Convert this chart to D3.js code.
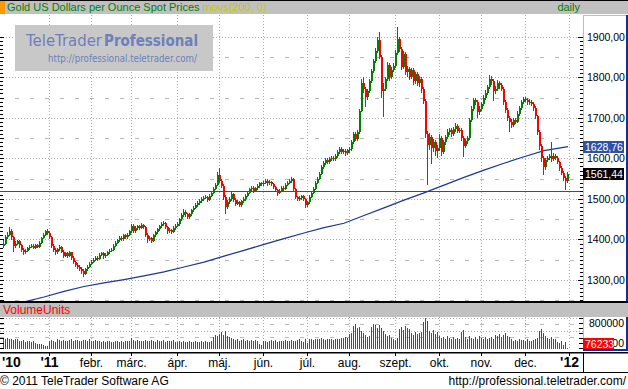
<!DOCTYPE html>
<html>
<head>
<meta charset="utf-8">
<script src="https://cdnjs.cloudflare.com/ajax/libs/d3/7.8.5/d3.min.js"></script>
<style>
body { margin: 0; background: #fff; }
svg { display: block; font-family: "Liberation Sans", Arial, sans-serif; }
</style>
</head>
<body>
<svg id="chart"></svg>
<script>
// chart size
var width = 628;
var height = 389;

// daily closes, Dec 1 2010 .. Dec 30 2011 (one per weekday), open = previous close
var firstOpen = 1385;
var closes = [
  1390,1405,1412,1422,1405,1385,1390,1395,1386,1375,
  1368,1372,1378,1382,1385,1380,1386,1382,1392,1404,
  1412,1420,1416,1405,1384,1375,1368,1376,1382,1370,
  1360,1366,1360,1368,1355,1345,1338,1332,1328,1322,
  1316,1326,1333,1340,1345,1350,1355,1352,1362,1366,
  1358,1362,1368,1372,1375,1385,1392,1398,1404,1400,
  1410,1405,1412,1420,1434,1420,1428,1432,1428,1435,
  1430,1412,1400,1404,1396,1410,1418,1425,1432,1438,
  1440,1430,1420,1424,1418,1428,1434,1437,1450,1460,
  1468,1462,1455,1462,1472,1478,1485,1490,1495,1500,
  1503,1505,1498,1508,1515,1525,1535,1560,1545,1532,
  1505,1480,1492,1500,1512,1498,1488,1492,1485,1494,
  1500,1508,1515,1524,1528,1520,1526,1532,1538,1536,
  1540,1545,1538,1542,1536,1530,1522,1515,1520,1528,
  1525,1535,1540,1545,1548,1525,1505,1500,1502,1506,
  1500,1485,1492,1505,1515,1525,1540,1550,1562,1578,
  1588,1595,1590,1598,1602,1598,1606,1615,1622,1615,
  1618,1612,1620,1622,1640,1660,1648,1665,1718,1785,
  1770,1752,1765,1790,1815,1840,1865,1892,1850,1765,
  1772,1795,1830,1800,1818,1828,1860,1895,1870,1825,
  1858,1812,1820,1800,1818,1790,1808,1785,1795,1770,
  1742,1660,1632,1652,1625,1640,1618,1625,1650,1615,
  1640,1652,1665,1670,1660,1672,1680,1668,1670,1650,
  1630,1642,1650,1695,1722,1745,1740,1715,1722,1735,
  1750,1762,1775,1795,1790,1765,1770,1785,1780,1772,
  1740,1720,1700,1690,1682,1695,1690,1710,1725,1740,
  1746,1745,1738,1740,1735,1725,1705,1665,1630,1600,
  1578,1595,1600,1605,1598,1606,1600,1590,1575,1565,
  1552,1545,1561.44
];
var highs = [
  1398,1410,1418,1431,1426,1408,1396,1399,1398,1390,
  1378,1376,1382,1386,1389,1388,1390,1389,1395,1407,
  1416,1424,1425,1420,1408,1388,1378,1380,1386,1384,
  1373,1370,1369,1372,1370,1358,1348,1342,1336,1331,
  1326,1330,1337,1344,1349,1354,1358,1359,1366,1370,
  1369,1366,1372,1376,1379,1388,1396,1402,1408,1409,
  1414,1413,1416,1424,1438,1437,1432,1436,1435,1440,
  1438,1433,1415,1408,1407,1413,1422,1429,1436,1442,
  1445,1443,1434,1428,1427,1432,1438,1442,1454,1464,
  1474,1472,1466,1466,1476,1482,1489,1494,1499,1504,
  1507,1510,1508,1512,1520,1530,1540,1566,1577,1549,
  1536,1510,1497,1505,1516,1515,1502,1497,1495,1498,
  1505,1512,1519,1528,1532,1531,1530,1536,1542,1542,
  1545,1550,1548,1546,1545,1539,1533,1525,1524,1532,
  1531,1539,1544,1550,1554,1551,1528,1508,1507,1510,
  1509,1503,1496,1509,1519,1529,1544,1554,1567,1583,
  1593,1600,1600,1603,1607,1606,1610,1620,1628,1627,
  1622,1622,1624,1628,1645,1666,1664,1670,1722,1795,
  1800,1775,1770,1795,1820,1846,1872,1900,1912,1855,
  1785,1800,1838,1835,1825,1835,1866,1924,1900,1875,
  1865,1862,1828,1826,1824,1822,1814,1812,1802,1800,
  1775,1746,1668,1662,1658,1648,1645,1632,1660,1656,
  1645,1658,1672,1676,1675,1678,1686,1684,1676,1674,
  1655,1648,1656,1700,1728,1750,1750,1744,1728,1740,
  1755,1768,1780,1805,1802,1795,1778,1792,1790,1786,
  1776,1745,1724,1705,1696,1700,1700,1716,1730,1745,
  1752,1752,1750,1746,1745,1740,1730,1708,1670,1635,
  1605,1600,1606,1610,1640,1612,1610,1605,1594,1580,
  1570,1556,1566
];
var lows = [
  1380,1387,1400,1408,1398,1369,1380,1386,1380,1370,
  1362,1364,1369,1374,1378,1376,1377,1378,1379,1389,
  1400,1408,1410,1400,1378,1370,1362,1365,1372,1366,
  1355,1356,1355,1357,1350,1340,1333,1326,1322,1314,
  1307,1312,1322,1330,1336,1341,1346,1348,1349,1358,
  1353,1355,1359,1364,1368,1372,1382,1388,1394,1396,
  1397,1400,1402,1409,1417,1415,1416,1424,1423,1425,
  1425,1407,1392,1396,1391,1393,1406,1414,1421,1428,
  1433,1426,1414,1416,1413,1415,1424,1430,1434,1446,
  1456,1456,1450,1451,1458,1468,1474,1480,1486,1490,
  1496,1499,1492,1495,1504,1512,1521,1531,1540,1527,
  1498,1462,1475,1487,1496,1492,1482,1484,1479,1481,
  1490,1496,1504,1511,1519,1515,1516,1522,1528,1531,
  1532,1536,1533,1534,1531,1525,1517,1508,1511,1516,
  1520,1521,1531,1536,1540,1520,1500,1494,1495,1497,
  1494,1478,1480,1488,1501,1511,1521,1536,1546,1558,
  1574,1584,1585,1586,1594,1593,1594,1602,1611,1610,
  1611,1607,1608,1614,1618,1636,1642,1644,1660,1714,
  1760,1726,1745,1760,1785,1810,1835,1860,1845,1749,
  1702,1765,1790,1790,1795,1812,1822,1855,1862,1818,
  1820,1806,1800,1793,1795,1782,1784,1778,1775,1762,
  1735,1650,1535,1620,1585,1615,1605,1600,1618,1605,
  1610,1634,1648,1658,1652,1655,1666,1662,1662,1644,
  1603,1625,1636,1645,1690,1716,1732,1700,1708,1716,
  1730,1744,1756,1770,1782,1742,1758,1765,1772,1765,
  1732,1713,1692,1665,1676,1678,1684,1686,1705,1720,
  1735,1738,1732,1732,1728,1718,1698,1658,1620,1590,
  1560,1572,1590,1595,1592,1594,1595,1585,1568,1558,
  1545,1522,1540
];

// volume, thousands of units
var volumes = [
  500,480,510,470,490,460,480,470,450,440,460,430,450,440,420,445,
  400,380,390,370,360,350,340,
  440,460,450,430,470,455,440,465,450,445,460,470,440,455,465,450,440,460,455,445,470,450,440,460,445,
  440,430,445,425,435,440,430,420,445,435,430,440,425,435,440,
  450,500,460,440,455,445,435,450,460,445,
  440,455,450,430,460,445,440,455,430,445,450,440,455,
  430,420,440,425,435,420,430,440,415,425,435,420,430,440,425,435,420,430,445,
  520,560,540,580,620,560,640,540,520,500,
  480,460,470,450,460,470,445,455,440,460,450,465,440,
  380,360,
  440,450,430,445,460,440,455,430,445,450,440,460,435,445,455,440,450,460,
  480,450,430,470,400,
  470,480,460,490,470,480,500,470,460,480,490,470,460,490,480,470,500,
  510,520,500,580,600,740,780,700,720,640,600,560,520,540,
  720,780,760,700,760,700,640,580,540,560,500,480,460,500,
  680,720,660,740,700,680,600,560,620,580,600,620,
  820,900,840,640,600,660,580,620,
  540,500,520,480,540,500,470,520,490,510,480,620,660,
  520,480,540,500,470,520,490,540,500,480,530,470,500,520,490,
  560,540,580,520,560,600,540,520,
  470,450,460,440,470,455,460,440,470,450,445,460,470,500,
  640,680,600,540,500,480,520,490,470,420,400,440,360,420,
  76.233
];

// 200 day moving average, read every 10 sessions
var maIndex = [0,10,20,30,40,50,60,70,80,90,100,110,120,130,140,150,160,170,180,190,200,210,220,230,240,250,260,270,282];
var maValues = [1238,1246,1258,1272,1284,1293,1301,1310,1320,1332,1344,1359,1373,1388,1402,1416,1429,1440,1459,1478,1497,1515,1534,1553,1571,1588,1604,1619,1628.76];

var priceTicks = [1300,1400,1500,1600,1700,1800,1900];
var volumeTicks = [400,800];
var monthLabels = ["'10","'11","febr.","márc.","ápr.","máj.","jún.","júl.","aug.","szept.","okt.","nov.","dec.","'12"];
var supportLevel = 1520;
var lastPrice = 1561.44;
var lastMA = 1628.76;
var lastVolume = 76233;

// layout
var plotRight = 583, priceTop = 15, priceBottom = 301;
var volTop = 317, volBottom = 350, volBase = 349;

var svg = d3.select("#chart")
  .attr("width", width)
  .attr("height", height);

svg.append("rect").attr("width", width).attr("height", height).attr("fill", "#fff");

// trading days -> month boundaries
var days = d3.timeDay.range(new Date(2010, 11, 1), new Date(2011, 11, 31))
  .filter(function(d) { return d.getDay() != 0 && d.getDay() != 6; });
var monthStarts = [];
days.forEach(function(d, i) {
  if (i == 0 || d.getMonth() != days[i - 1].getMonth()) monthStarts.push(i);
});
monthStarts.push(days.length);

var x = d3.scaleLinear().domain([0, days.length]).range([3, 569]);
var y = d3.scaleLinear().domain([1300, 1900]).range([280, 36.7]);
var yVol = d3.scaleLinear().domain([400, 800]).range([343, 323]);

var fmtPrice = function(v) { return d3.format(".2f")(v).replace(".", ","); };

// header
svg.append("rect").attr("x", 0).attr("y", 0).attr("width", width).attr("height", 14).attr("fill", "#c0c0c0");
svg.append("line").attr("x1", 0).attr("x2", width).attr("y1", 0.5).attr("y2", 0.5).attr("stroke", "#000");
svg.append("rect").attr("x", 0).attr("y", 1).attr("width", 5).attr("height", 13).attr("fill", "#ff9900");
var title = svg.append("text").attr("x", 7).attr("y", 11).style("font-size", "11px");
title.append("tspan").attr("fill", "#008000").text("Gold US Dollars per Ounce Spot Prices ");
title.append("tspan").attr("fill", "#c8c800").text("movs(200, 0)");
svg.append("text").attr("x", 580).attr("y", 11).attr("text-anchor", "end")
  .attr("fill", "#008000").style("font-size", "11px").text("daily");

// clip for price panel
svg.append("clipPath").attr("id", "priceClip")
  .append("rect").attr("x", 0).attr("y", priceTop).attr("width", plotRight).attr("height", priceBottom - priceTop);

var grid = svg.append("g").attr("clip-path", "url(#priceClip)");
grid.selectAll(".hdot").data(d3.range(1300, 1901, 100)).enter().append("line")
  .attr("x1", 0).attr("x2", plotRight)
  .attr("y1", function(d) { return Math.round(y(d)) + 0.5; })
  .attr("y2", function(d) { return Math.round(y(d)) + 0.5; })
  .attr("stroke", "#a8a8a8").attr("stroke-dasharray", "1,2");
grid.selectAll(".hdash").data(d3.range(1250, 1901, 100)).enter().append("line")
  .attr("x1", 0).attr("x2", plotRight)
  .attr("y1", function(d) { return Math.round(y(d)) + 0.5; })
  .attr("y2", function(d) { return Math.round(y(d)) + 0.5; })
  .attr("stroke", "#b8b8b8").attr("stroke-dasharray", "4,11");
grid.selectAll(".vdot").data(monthStarts.slice(1)).enter().append("line")
  .attr("x1", function(d) { return x(d) + 0.5; })
  .attr("x2", function(d) { return x(d) + 0.5; })
  .attr("y1", priceTop).attr("y2", priceBottom)
  .attr("stroke", "#a8a8a8").attr("stroke-dasharray", "1,2");

// left ticks
var leftTicks = d3.range(1250, 1901, 10);
svg.selectAll(".lt").data(leftTicks).enter().append("line")
  .attr("x1", 0).attr("x2", function(d) { return d % 50 == 0 ? 4 : 3; })
  .attr("y1", function(d) { return Math.round(y(d)) + 0.5; })
  .attr("y2", function(d) { return Math.round(y(d)) + 0.5; })
  .attr("stroke", "#000");

// watermark logo
var logo = svg.append("g");
logo.append("rect").attr("x", 15).attr("y", 25).attr("width", 198).attr("height", 46)
  .attr("fill", "#c8c8c8");
logo.append("text").attr("x", 26).attr("y", 46).attr("fill", "#6e7fba")
  .style("font-family", "'DejaVu Sans', Verdana, sans-serif").style("font-size", "16px")
  .attr("textLength", 76).attr("lengthAdjust", "spacingAndGlyphs").text("TeleTrader");
logo.append("text").attr("x", 104).attr("y", 46).attr("fill", "#6e7fba")
  .style("font-family", "'DejaVu Sans', Verdana, sans-serif").style("font-size", "16px").style("font-weight", "bold")
  .attr("textLength", 94).attr("lengthAdjust", "spacingAndGlyphs").text("Professional");
logo.append("text").attr("x", 48).attr("y", 62).attr("fill", "#6e7fba")
  .style("font-family", "'DejaVu Sans', Verdana, sans-serif").style("font-size", "11px")
  .attr("textLength", 149).attr("lengthAdjust", "spacingAndGlyphs").text("http://professional.teletrader.com/");

// price marks
var marks = svg.append("g").attr("clip-path", "url(#priceClip)");

marks.append("line").attr("x1", 0).attr("x2", plotRight)
  .attr("y1", Math.round(y(supportLevel)) + 0.5).attr("y2", Math.round(y(supportLevel)) + 0.5)
  .attr("stroke", "#ff0000");

var maLine = d3.line()
  .x(function(d, i) { return x(maIndex[i]) + 1; })
  .y(function(d) { return y(d); });
marks.append("path").datum(maValues).attr("d", maLine)
  .attr("fill", "none").attr("stroke", "#1c3890").attr("stroke-width", 1.2);

var candles = closes.map(function(c, i) {
  return { i: i, o: i == 0 ? firstOpen : closes[i - 1], h: highs[i], l: lows[i], c: c };
});
var cg = marks.selectAll(".candle").data(candles).enter().append("g")
  .attr("shape-rendering", "crispEdges")
  .attr("fill", function(d) { return d.c >= d.o ? "#008000" : "#ff0000"; });
cg.append("rect")
  .attr("x", function(d) { return Math.round(x(d.i)); })
  .attr("width", 1)
  .attr("y", function(d) { return Math.round(y(d.h)); })
  .attr("height", function(d) { return Math.max(1, Math.round(y(d.l)) - Math.round(y(d.h))); });
cg.append("rect")
  .attr("x", function(d) { return Math.round(x(d.i)); })
  .attr("width", 2)
  .attr("y", function(d) { return Math.round(y(Math.max(d.o, d.c))); })
  .attr("height", function(d) { return Math.max(1, Math.round(y(Math.min(d.o, d.c))) - Math.round(y(Math.max(d.o, d.c)))); });

// right price axis
var ax = svg.append("g");
ax.append("line").attr("x1", plotRight + 0.5).attr("x2", plotRight + 0.5).attr("y1", priceTop).attr("y2", priceBottom)
  .attr("stroke", "#f0c020");
ax.append("line").attr("x1", plotRight).attr("x2", 626).attr("y1", priceTop + 0.5).attr("y2", priceTop + 0.5)
  .attr("stroke", "#f0c020");
ax.append("rect").attr("x", 626).attr("y", priceTop).attr("width", 2).attr("height", priceBottom - priceTop).attr("fill", "#1030a0");
ax.selectAll(".rt").data(d3.range(1250, 1901, 10)).enter().append("line")
  .attr("x1", function(d) { return d % 100 == 0 ? plotRight - 5 : plotRight - 3; })
  .attr("x2", plotRight)
  .attr("y1", function(d) { return Math.round(y(d)) + 0.5; })
  .attr("y2", function(d) { return Math.round(y(d)) + 0.5; })
  .attr("stroke", "#000");
ax.selectAll(".rl").data(priceTicks).enter().append("text")
  .attr("x", 587).attr("y", function(d) { return y(d) + 4; })
  .style("font-size", "10.5px").attr("fill", "#000")
  .text(fmtPrice);

function priceBox(v, fill) {
  var yy = Math.round(y(v));
  ax.append("rect").attr("x", plotRight).attr("y", yy - 6).attr("width", 41).attr("height", 12).attr("fill", fill);
  ax.append("text").attr("x", 585).attr("y", yy + 4).attr("fill", "#fff")
    .style("font-size", "10.5px").text(fmtPrice(v));
}
priceBox(lastMA, "#2a52a5");
priceBox(lastPrice, "#000");

// separator and volume header
svg.append("rect").attr("x", 0).attr("y", 301).attr("width", width).attr("height", 2).attr("fill", "#000");
svg.append("rect").attr("x", 0).attr("y", 303).attr("width", width).attr("height", 14).attr("fill", "#c0c0c0");
svg.append("text").attr("x", 3).attr("y", 314).attr("fill", "#ff0000").style("font-size", "12px").text("VolumeUnits");

// volume panel
var vg = svg.append("g");
vg.selectAll(".vh1").data([900, 650]).enter().append("line")
  .attr("x1", 0).attr("x2", plotRight)
  .attr("y1", function(d) { return Math.round(yVol(d)) + 0.5; })
  .attr("y2", function(d) { return Math.round(yVol(d)) + 0.5; })
  .attr("stroke", "#a8a8a8").attr("stroke-dasharray", "1,2");
vg.selectAll(".vh2").data([775, 525]).enter().append("line")
  .attr("x1", 0).attr("x2", plotRight)
  .attr("y1", function(d) { return Math.round(yVol(d)) + 0.5; })
  .attr("y2", function(d) { return Math.round(yVol(d)) + 0.5; })
  .attr("stroke", "#b8b8b8").attr("stroke-dasharray", "4,11");
vg.selectAll(".vv").data(monthStarts.slice(1)).enter().append("line")
  .attr("x1", function(d) { return x(d) + 0.5; })
  .attr("x2", function(d) { return x(d) + 0.5; })
  .attr("y1", volTop).attr("y2", volBottom)
  .attr("stroke", "#a8a8a8").attr("stroke-dasharray", "1,2");
vg.selectAll(".vbar").data(volumes).enter().append("rect")
  .attr("shape-rendering", "crispEdges")
  .attr("x", function(d, i) { return Math.round(x(i)); })
  .attr("width", 1)
  .attr("y", function(d) { return Math.min(volBase - 1, Math.round(yVol(d))); })
  .attr("height", function(d) { return volBase - Math.min(volBase - 1, Math.round(yVol(d))); })
  .attr("fill", "#ff0000");
var volTickVals = d3.range(300, 901, 100);
vg.selectAll(".vlt").data(volTickVals).enter().append("line")
  .attr("x1", 0).attr("x2", 4)
  .attr("y1", function(d) { return Math.round(yVol(d)) + 0.5; })
  .attr("y2", function(d) { return Math.round(yVol(d)) + 0.5; })
  .attr("stroke", "#000");
vg.selectAll(".vrt").data(volTickVals).enter().append("line")
  .attr("x1", plotRight - 4).attr("x2", plotRight)
  .attr("y1", function(d) { return Math.round(yVol(d)) + 0.5; })
  .attr("y2", function(d) { return Math.round(yVol(d)) + 0.5; })
  .attr("stroke", "#000");
vg.append("line").attr("x1", plotRight + 0.5).attr("x2", plotRight + 0.5).attr("y1", volTop).attr("y2", volBottom)
  .attr("stroke", "#f0c020");
vg.append("rect").attr("x", 626).attr("y", volTop).attr("width", 2).attr("height", volBottom - volTop).attr("fill", "#1030a0");
vg.append("rect").attr("x", plotRight).attr("y", volBottom - 1).attr("width", 45).attr("height", 2).attr("fill", "#1030a0");
vg.selectAll(".vl").data(volumeTicks).enter().append("text")
  .attr("x", 589).attr("y", function(d) { return yVol(d) + 4; })
  .style("font-size", "10.5px").attr("fill", "#000")
  .text(function(d) { return d3.format("d")(d * 1000); });
vg.append("rect").attr("x", plotRight).attr("y", 338).attr("width", 31).attr("height", 11).attr("fill", "#ff0000");
vg.append("text").attr("x", 585).attr("y", 347.5).attr("fill", "#fff").style("font-size", "10.5px").text(lastVolume);

// date axis
var xa = svg.append("g");
xa.append("rect").attr("x", 0).attr("y", 352).attr("width", width).attr("height", 1.5).attr("fill", "#000");
xa.append("rect").attr("x", 0).attr("y", 372).attr("width", width).attr("height", 1).attr("fill", "#000");
xa.append("line").attr("x1", plotRight + 0.5).attr("x2", plotRight + 0.5).attr("y1", 352).attr("y2", 372).attr("stroke", "#000");
xa.selectAll(".xt").data(monthStarts.slice(1)).enter().append("line")
  .attr("x1", function(d) { return x(d) + 0.5; })
  .attr("x2", function(d) { return x(d) + 0.5; })
  .attr("y1", 353).attr("y2", 356).attr("stroke", "#000");
xa.selectAll(".xl").data(monthStarts).enter().append("text")
  .attr("x", function(d, i) { return i == 0 ? 2 : x(d) + 0.5; })
  .attr("y", 367)
  .attr("text-anchor", function(d, i) { return i == 0 ? "start" : "middle"; })
  .style("font-size", function(d, i) { return monthLabels[i].charAt(0) == "'" ? "14px" : "12px"; })
  .style("font-weight", function(d, i) { return monthLabels[i].charAt(0) == "'" ? "bold" : "normal"; })
  .attr("fill", "#000")
  .text(function(d, i) { return monthLabels[i]; });

// footer
svg.append("text").attr("x", 0).attr("y", 385).style("font-size", "12px").attr("fill", "#000")
  .text("© 2011 TeleTrader Software AG");
svg.append("text").attr("x", 626).attr("y", 385).attr("text-anchor", "end").style("font-size", "12px").attr("fill", "#000")
  .text("http://professional.teletrader.com/");
</script>
</body>
</html>
